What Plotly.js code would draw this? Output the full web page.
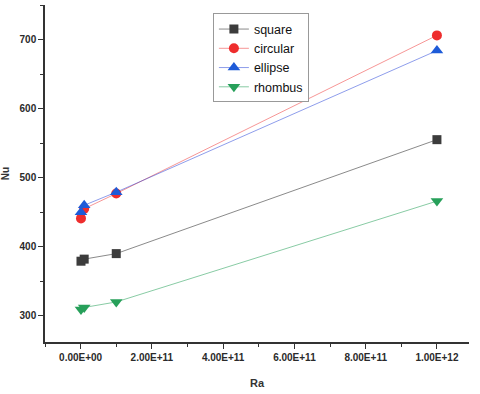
<!DOCTYPE html>
<html>
<head>
<meta charset="utf-8">
<script src="https://cdn.plot.ly/plotly-3.0.1.min.js"></script>
<style>
  body { margin: 0; background: #fff; }
  #myDiv { width: 480px; height: 394px; }
</style>
</head>
<body>
<div id="myDiv"></div>
<script>
// Ra values (x) and Nu for each shape
var ra = [1e9, 1e10, 1e11, 1e12];
var nuSquare = [379, 382, 390, 555];
var nuCircular = [441, 455, 477, 706];
var nuEllipse = [450, 460, 479, 684];
var nuRhombus = [309, 312, 320, 466];

var xTicks = [0, 2e11, 4e11, 6e11, 8e11, 1e12];
var yTicks = [300, 400, 500, 600, 700];

// Origin style labels like 2.00E+11
function sciLabel(v) {
    if (v == 0) return '0.00E+00';
    var e = Math.floor(Math.log10(v));
    var m = v / Math.pow(10, e);
    return m.toFixed(2) + 'E+' + (e < 10 ? '0' + e : e);
}
var xLabels = xTicks.map(function (v) { return sciLabel(v); });

function makeTrace(y, name, color, lineColor, symbol, size) {
    return {
        x: ra,
        y: y,
        name: name,
        type: 'scatter',
        mode: 'lines+markers',
        line: { color: lineColor, width: 1 },
        marker: { color: color, symbol: symbol, size: size }
    };
}

var data = [
    makeTrace(nuSquare, 'square', '#3c3c3c', 'rgba(60,60,60,0.6)', 'square', 9),
    makeTrace(nuCircular, 'circular', '#ee2d2d', 'rgba(238,45,45,0.5)', 'circle', 10),
    makeTrace(nuEllipse, 'ellipse', '#1e5bd8', 'rgba(30,60,216,0.5)', 'triangle-up', 11),
    makeTrace(nuRhombus, 'rhombus', '#27a05a', 'rgba(39,160,90,0.55)', 'triangle-down', 11)
];

var layout = {
    width: 480,
    height: 394,
    margin: { l: 45, r: 11, t: 5, b: 52 },
    paper_bgcolor: '#fff',
    plot_bgcolor: '#fff',
    font: { family: 'Arial, Liberation Sans, sans-serif', color: '#222' },
    showlegend: true,
    legend: {
        x: 0.396, y: 0.975, xanchor: 'left', yanchor: 'top',
        bordercolor: '#999', borderwidth: 1, bgcolor: '#fff',
        font: { size: 12.5, color: '#111' }
    },
    xaxis: {
        range: [-1e11, 1.09e12],
        tickvals: xTicks,
        ticktext: xLabels,
        ticks: 'outside', ticklen: 5, tickcolor: '#333',
        minor: { dtick: 1e11, ticks: 'outside', ticklen: 3, tickcolor: '#333' },
        showgrid: false, zeroline: false,
        showline: true, linecolor: '#333', linewidth: 1.5,
        tickfont: { family: 'Arial, Liberation Sans, sans-serif', size: 10, color: '#2a2a2a', weight: 'bold' },
        title: { text: '<b>Ra</b>', font: { size: 11, color: '#333' }, standoff: 18 }
    },
    yaxis: {
        range: [262, 750],
        tickvals: yTicks,
        ticks: 'outside', ticklen: 5, tickcolor: '#333',
        minor: { dtick: 50, ticks: 'outside', ticklen: 3, tickcolor: '#333' },
        showgrid: false, zeroline: false,
        showline: true, linecolor: '#333', linewidth: 1.5,
        tickfont: { family: 'Arial, Liberation Sans, sans-serif', size: 10, color: '#2a2a2a', weight: 'bold' },
        title: { text: '<b>Nu</b>', font: { size: 10, color: '#333' }, standoff: 8 }
    }
};

Plotly.newPlot('myDiv', data, layout, { displayModeBar: false });
</script>
</body>
</html>
